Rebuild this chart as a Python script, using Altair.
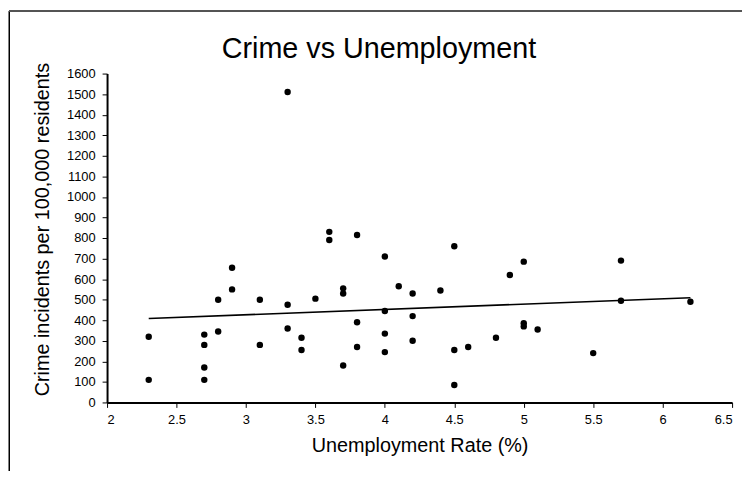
import altair as alt
import pandas as pd

unemployment = [2.3, 2.3, 2.7, 2.7, 2.7, 2.7, 2.8, 2.8, 2.9, 2.9,
                3.1, 3.1, 3.3, 3.3, 3.3, 3.4, 3.4, 3.5, 3.6, 3.6,
                3.7, 3.7, 3.7, 3.8, 3.8, 3.8, 4.0, 4.0, 4.0, 4.0,
                4.1, 4.2, 4.2, 4.2, 4.4, 4.5, 4.5, 4.5, 4.6, 4.8,
                4.9, 5.0, 5.0, 5.0, 5.1, 5.5, 5.7, 5.7, 6.2]
crime = [320, 110, 330, 280, 170, 110, 500, 345, 655, 550,
         500, 280, 1510, 475, 360, 315, 255, 505, 830, 790,
         555, 530, 180, 815, 390, 270, 710, 445, 335, 245,
         565, 530, 420, 300, 545, 760, 255, 85, 270, 315,
         620, 685, 385, 370, 355, 240, 690, 495, 490]

x_ticks = [2, 2.5, 3, 3.5, 4, 4.5, 5, 5.5, 6, 6.5]
y_ticks = [0, 100, 200, 300, 400, 500, 600, 700, 800, 900, 1000,
           1100, 1200, 1300, 1400, 1500, 1600]

df = pd.DataFrame({"rate": unemployment, "crime": crime})

FONT = "Liberation Sans"

x_axis = alt.Axis(title="Unemployment Rate (%)", values=x_ticks, format="~g",
                  titleFontSize=20, titleFont=FONT, titleFontWeight="normal",
                  titleColor="black", titleBaseline="alphabetic", titleY=50,
                  labelFontSize=13, labelFont=FONT, labelColor="black",
                  labelPadding=6, tickSize=5, tickColor="black",
                  labelOverlap=False, tickCount=10,
                  domainColor="black", domainWidth=2, grid=False)
y_axis = alt.Axis(title="Crime incidents per 100,000 residents", values=y_ticks,
                  format="d",
                  titleFontSize=20, titleFont=FONT, titleFontWeight="normal",
                  titleColor="black", titleBaseline="middle", titleX=-65,
                  titleY=157,
                  labelFontSize=13, labelFont=FONT, labelColor="black",
                  labelPadding=7, tickSize=5, tickColor="black",
                  labelOverlap=False, tickCount=17,
                  domainColor="black", domainWidth=2, grid=False)

x_scale = alt.Scale(domain=[2, 6.5], nice=False, zero=False)
y_scale = alt.Scale(domain=[0, 1600], nice=False)

points = alt.Chart(df).mark_circle(size=42, color="black", opacity=1).encode(
    x=alt.X("rate:Q", scale=x_scale, axis=x_axis),
    y=alt.Y("crime:Q", scale=y_scale, axis=y_axis))

trend = alt.Chart(df).transform_regression("rate", "crime").mark_line(
    color="black", strokeWidth=1.6).encode(
    x=alt.X("rate:Q", scale=x_scale, axis=x_axis),
    y=alt.Y("crime:Q", scale=y_scale, axis=y_axis))

frame_left = alt.Chart(df).mark_rule(color="black", strokeWidth=1).encode(
    x=alt.value(-98.5), y=alt.value(-63.5), y2=alt.value(470))
frame_top = alt.Chart(df).mark_rule(color="#555555", strokeWidth=1.5).encode(
    x=alt.value(-98.5), x2=alt.value(650), y=alt.value(-63.5))

chart = alt.layer(frame_left, frame_top, points, trend).properties(
    width=631, height=332,
    autosize=alt.AutoSizeParams(type="none"),
    padding={"left": 100, "top": 64, "right": 10, "bottom": 67},
    title=alt.TitleParams("Crime vs Unemployment", fontSize=29, font=FONT,
                          fontWeight="normal", color="black", anchor="middle",
                          baseline="alphabetic", offset=0, dx=-41, dy=78),
    background="white",
).configure_view(stroke=None)

chart.save("out.html", embed_options={"renderer": "svg", "actions": False})
